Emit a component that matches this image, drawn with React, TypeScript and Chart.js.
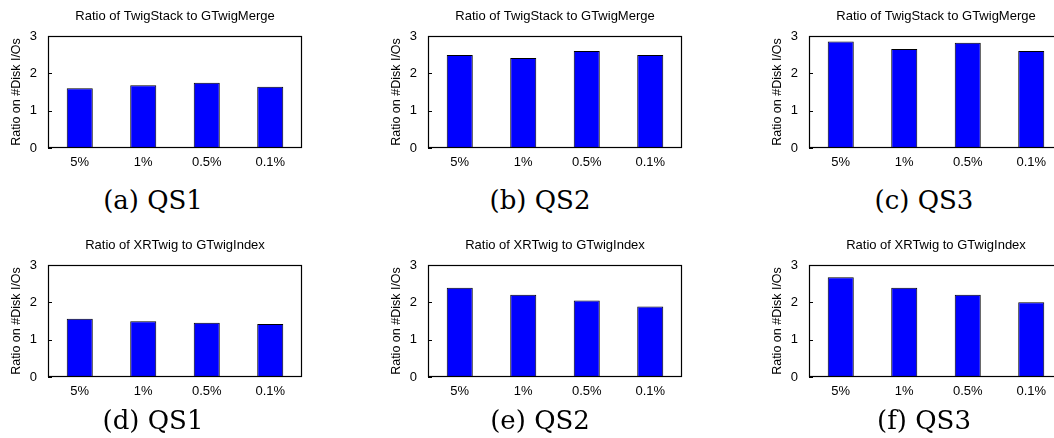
import React, { useEffect, useRef } from "react";
import { Chart, registerables } from "chart.js";

Chart.register(...registerables);

// ---- data ----
const categories = ["5%", "1%", "0.5%", "0.1%"];
const yTickValues = [0, 1, 2, 3];
const titleTop = "Ratio of TwigStack to GTwigMerge";
const titleBottom = "Ratio of XRTwig to GTwigIndex";
const yAxisLabel = "Ratio on #Disk I/Os";

const mergeQS1 = [1.6, 1.68, 1.75, 1.64];
const mergeQS2 = [2.49, 2.41, 2.6, 2.49];
const mergeQS3 = [2.85, 2.65, 2.82, 2.6];
const indexQS1 = [1.56, 1.49, 1.45, 1.42];
const indexQS2 = [2.39, 2.2, 2.05, 1.89];
const indexQS3 = [2.67, 2.39, 2.2, 2.0];

const captions = ["(a) QS1", "(b) QS2", "(c) QS3", "(d) QS1", "(e) QS2", "(f) QS3"];

// ---- layout ----
const SANS = "'Liberation Sans', Arial, Helvetica, sans-serif";
const SERIF = "'DejaVu Serif', 'Liberation Serif', serif";
const CANVAS_W = 306;
const CANVAS_H = 180;
const colLefts = [0, 380, 761];
const rowTops = [0, 229];
const captionCx = [153, 540, 924];
const captionCy = [200, 420];

const framePlugin = {
  id: "frame",
  afterDatasetsDraw(chart: any) {
    const { ctx, chartArea } = chart;
    const { left, top, right, bottom } = chartArea;
    const ys = chart.scales.y;
    ctx.save();
    ctx.strokeStyle = "#000";
    ctx.lineWidth = 1.2;
    ctx.strokeRect(left + 0.5, top + 0.5, right - left - 1, bottom - top - 1);
    ctx.beginPath();
    for (const v of yTickValues) {
      const py = Math.round(ys.getPixelForValue(v)) + 0.5;
      ctx.moveTo(left, py);
      ctx.lineTo(left + 4, py);
    }
    ctx.stroke();
    ctx.restore();
  },
};

function BarPanel({ values, title }: { values: number[]; title: string }) {
  const ref = useRef<HTMLCanvasElement | null>(null);
  useEffect(() => {
    if (!ref.current) return;
    const chart = new Chart(ref.current, {
      type: "bar",
      data: {
        labels: categories,
        datasets: [
          {
            data: values,
            backgroundColor: "#0000ff",
            borderColor: "#000",
            borderWidth: 1,
            barPercentage: 0.41,
            categoryPercentage: 1,
          },
        ],
      },
      options: {
        animation: false,
        responsive: false,
        maintainAspectRatio: false,
        layout: { padding: { left: 0, right: 4, top: 0, bottom: 0 } },
        plugins: {
          legend: { display: false },
          tooltip: { enabled: false },
          title: {
            display: true,
            text: title,
            color: "#000",
            fullSize: false,
            font: { family: SANS, size: 13, weight: "normal", lineHeight: 1.2 },
            padding: { top: 9, bottom: 11.4 },
          },
        },
        scales: {
          x: {
            grid: { display: false, drawTicks: false },
            border: { display: false },
            ticks: {
              color: "#000",
              font: { family: SANS, size: 13 },
              padding: 6.5,
              maxRotation: 0,
              autoSkip: false,
            },
            afterFit: (s: any) => {
              s.height = CANVAS_H - 148;
            },
          },
          y: {
            min: 0,
            max: 3,
            grid: { display: false, drawTicks: false },
            border: { display: false },
            ticks: {
              stepSize: 1,
              color: "#000",
              font: { family: SANS, size: 13 },
              padding: 11,
            },
            title: {
              display: true,
              text: yAxisLabel,
              color: "#000",
              font: { family: SANS, size: 12.5, lineHeight: 1.2 },
              padding: { top: 9.5, bottom: 0 },
            },
            afterFit: (s: any) => {
              s.width = 48;
            },
          },
        },
      } as any,
      plugins: [framePlugin],
    });
    return () => chart.destroy();
  }, [values, title]);
  return (
    <canvas
      ref={ref}
      width={CANVAS_W}
      height={CANVAS_H}
      style={{ width: CANVAS_W, height: CANVAS_H, display: "block" }}
    />
  );
}

export default function App() {
  const panels = [
    { values: mergeQS1, title: titleTop },
    { values: mergeQS2, title: titleTop },
    { values: mergeQS3, title: titleTop },
    { values: indexQS1, title: titleBottom },
    { values: indexQS2, title: titleBottom },
    { values: indexQS3, title: titleBottom },
  ];
  return (
    <div
      style={{
        position: "absolute",
        left: 0,
        top: 0,
        width: 1054,
        height: 438,
        overflow: "hidden",
        background: "#fff",
      }}
    >
      {panels.map((p, i) => {
        const row = Math.floor(i / 3);
        const col = i % 3;
        return (
          <div
            key={"c" + i}
            style={{ position: "absolute", left: colLefts[col], top: rowTops[row] }}
          >
            <BarPanel values={p.values} title={p.title} />
          </div>
        );
      })}
      {captions.map((c, i) => {
        const row = Math.floor(i / 3);
        const col = i % 3;
        return (
          <div
            key={"t" + i}
            style={{
              position: "absolute",
              left: captionCx[col] - 100,
              width: 200,
              top: captionCy[row] - 15,
              height: 30,
              lineHeight: "30px",
              textAlign: "center",
              fontFamily: SERIF,
              fontSize: 26,
              color: "#000",
              whiteSpace: "nowrap",
            }}
          >
            {c}
          </div>
        );
      })}
    </div>
  );
}
